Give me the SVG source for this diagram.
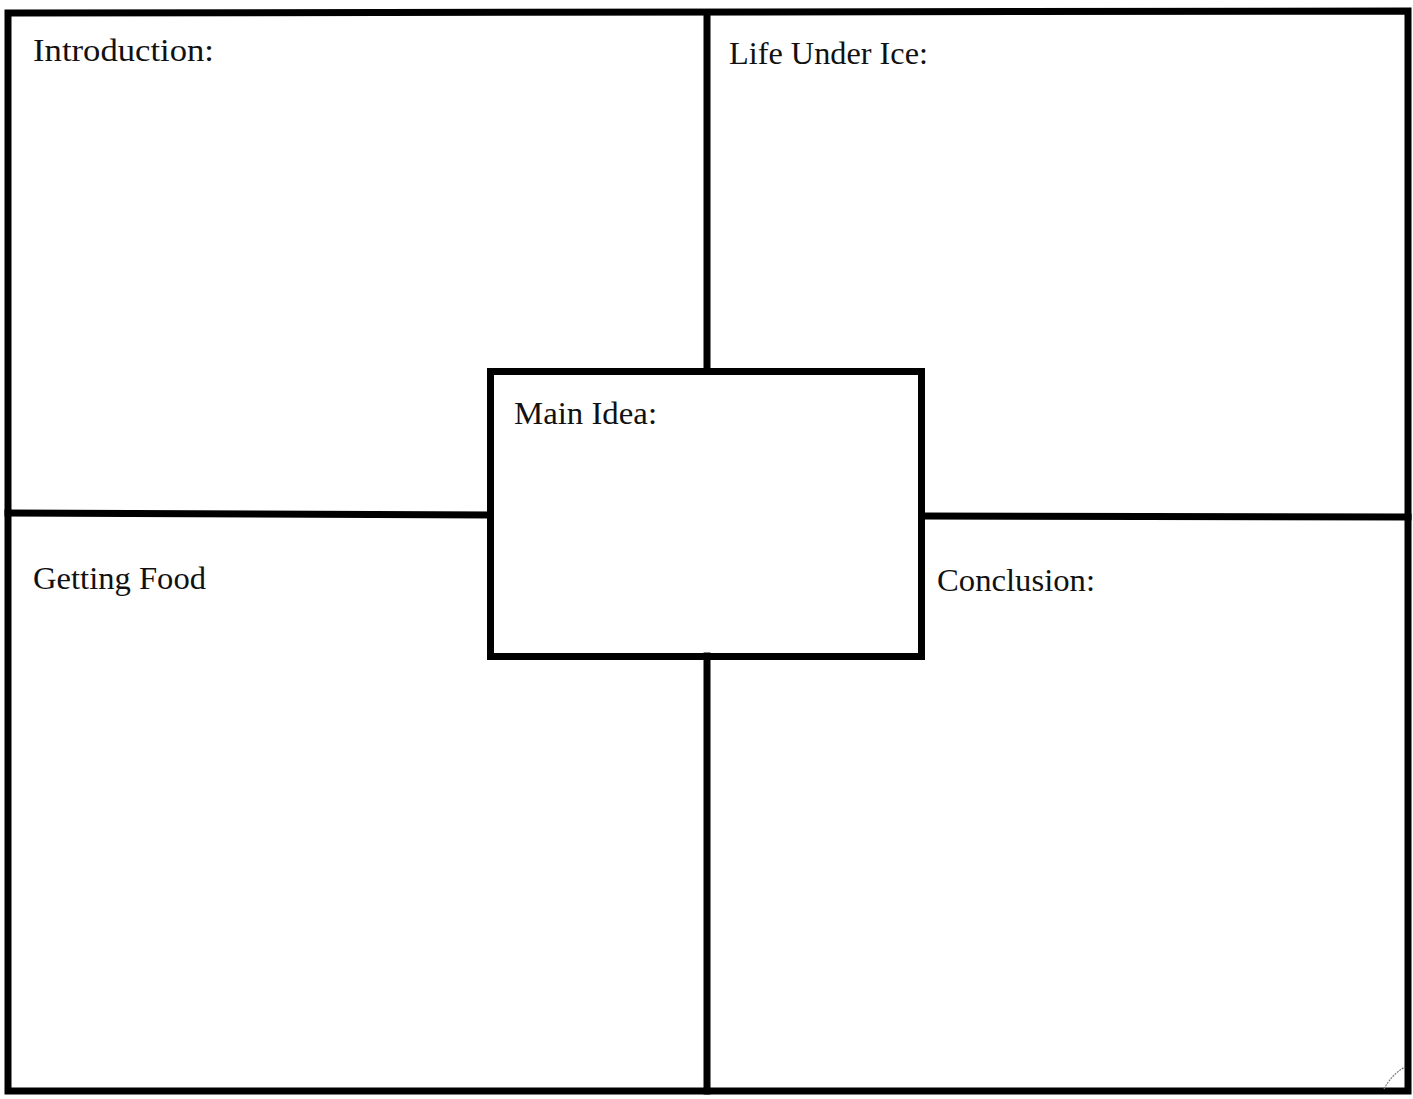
<svg xmlns="http://www.w3.org/2000/svg" width="1413" height="1099" viewBox="0 0 1413 1099">
<style>
.ln{stroke:#000;stroke-width:7;fill:none;stroke-linecap:square}
.lbl{font-family:"Liberation Serif","Times New Roman",serif;font-size:32px;fill:#111}
</style>
<rect width="1413" height="1099" fill="#fff"/>
<g id="frame">
<path class="ln" d="M8 13 L1408 11 L1408 1091 L8 1091 Z" stroke-width="8"/>
</g>
<g id="connectors">
<line class="ln" x1="707" y1="13" x2="707" y2="371"/>
<line class="ln" x1="707" y1="656" x2="707" y2="1091"/>
<line class="ln" x1="8" y1="513" x2="490" y2="515"/>
<line class="ln" x1="922" y1="516" x2="1408" y2="517"/>
</g>
<g id="introduction"><text class="lbl" x="33" y="61" textLength="181" lengthAdjust="spacingAndGlyphs">Introduction:</text></g>
<g id="life-under-ice"><text class="lbl" x="729" y="64" textLength="199" lengthAdjust="spacingAndGlyphs">Life Under Ice:</text></g>
<g id="getting-food"><text class="lbl" x="33" y="589" textLength="173" lengthAdjust="spacingAndGlyphs">Getting Food</text></g>
<g id="conclusion"><text class="lbl" x="937" y="591" textLength="158" lengthAdjust="spacingAndGlyphs">Conclusion:</text></g>
<g id="main-idea">
<rect class="ln" x="490.5" y="371.5" width="431" height="285"/>
<text class="lbl" x="514" y="424" textLength="143" lengthAdjust="spacingAndGlyphs">Main Idea:</text>
</g>
<path d="M1384 1089 Q1392 1074 1405 1067" fill="none" stroke="#777" stroke-width="1.2" stroke-dasharray="2 1"/>
</svg>
